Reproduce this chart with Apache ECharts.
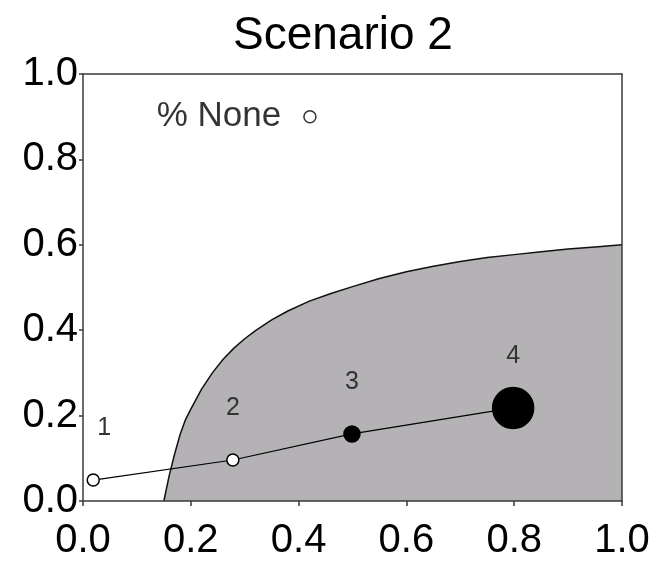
<!DOCTYPE html>
<html>
<head>
<meta charset="utf-8">
<script src="https://cdn.jsdelivr.net/npm/echarts@6/dist/echarts.min.js"></script>
<style>
html,body{margin:0;padding:0;background:#fff;}
#chart{width:658px;height:564px;}
</style>
</head>
<body>
<div id="chart"></div>
<script>
// Shaded region boundary
var boundaryX = [0.150, 0.160, 0.170, 0.180, 0.190, 0.200, 0.220, 0.240, 0.260, 0.280, 0.300, 0.320, 0.350, 0.380, 0.420, 0.460, 0.500, 0.550, 0.600, 0.650, 0.700, 0.750, 0.800, 0.850, 0.900, 0.950, 1.000];
var boundaryY = [0.000, 0.060, 0.110, 0.155, 0.190, 0.215, 0.262, 0.300, 0.332, 0.358, 0.380, 0.399, 0.424, 0.445, 0.468, 0.486, 0.502, 0.521, 0.537, 0.550, 0.561, 0.570, 0.577, 0.584, 0.590, 0.595, 0.600];

// Scenario points
var pointNames = ['1', '2', '3', '4'];
var pointX = [0.019, 0.278, 0.499, 0.798];
var pointY = [0.049, 0.096, 0.157, 0.218];
var pointSize = [12, 12, 16, 41];
var pointFilled = [false, false, true, true];

// Legend marker
var noneLabel = '% None';
var noneX = 0.421;
var noneY = 0.90;

var tickValues = [0.0, 0.2, 0.4, 0.6, 0.8, 1.0];
var titleText = 'Scenario 2';

var FONT = '"Liberation Sans", Arial, sans-serif';
var AXC = '#3a3a3a';

var boundaryData = boundaryX.map(function (x, i) { return [x, boundaryY[i]]; });
var pointData = pointX.map(function (x, i) {
  return {
    name: pointNames[i],
    value: [x, pointY[i]],
    symbolSize: pointSize[i],
    itemStyle: { color: pointFilled[i] ? '#000' : '#fff', borderColor: '#000', borderWidth: 1.5 },
    label: { offset: [i === 0 ? 11 : 0, -52] }
  };
});

var chart = echarts.init(document.getElementById('chart'), null, { renderer: 'canvas' });
chart.setOption({
  animation: false,
  backgroundColor: '#fff',
  title: {
    text: titleText,
    left: 228, top: 8,
    textStyle: { fontFamily: FONT, fontSize: 46, fontWeight: 'normal', color: '#000' }
  },
  grid: { left: 83, top: 74, width: 539, height: 427, containLabel: false },
  xAxis: [{
    type: 'value', min: 0, max: 1, interval: 0.2, z: 10,
    axisLine: { show: true, onZero: false, lineStyle: { color: AXC, width: 1.5 } },
    axisTick: { show: true, inside: false, length: 5, lineStyle: { color: AXC, width: 1.5 } },
    axisLabel: { margin: 20, fontFamily: FONT, fontSize: 40, color: '#000',
      formatter: function (v) { return v.toFixed(1); } },
    splitLine: { show: false }
  }, {
    type: 'value', position: 'top', min: 0, max: 1, z: 10,
    axisLine: { show: true, onZero: false, lineStyle: { color: AXC, width: 1.5 } },
    axisTick: { show: false }, axisLabel: { show: false }, splitLine: { show: false }
  }],
  yAxis: [{
    type: 'value', min: 0, max: 1, interval: 0.2, z: 10,
    axisLine: { show: true, onZero: false, lineStyle: { color: AXC, width: 1.5 } },
    axisTick: { show: true, inside: false, length: 4, lineStyle: { color: AXC, width: 1.5 } },
    axisLabel: { margin: 5, fontFamily: FONT, fontSize: 40, color: '#000',
      formatter: function (v) { return v.toFixed(1); } },
    splitLine: { show: false }
  }, {
    type: 'value', position: 'right', min: 0, max: 1, z: 10,
    axisLine: { show: true, onZero: false, lineStyle: { color: AXC, width: 1.5 } },
    axisTick: { show: false }, axisLabel: { show: false }, splitLine: { show: false }
  }],
  series: [{
    type: 'line',
    data: boundaryData,
    smooth: false,
    symbol: 'none',
    lineStyle: { color: '#111', width: 1.5 },
    areaStyle: { color: '#b4b2b5', opacity: 1 },
    z: 1
  }, {
    type: 'line',
    data: pointData,
    symbol: 'circle',
    lineStyle: { color: '#000', width: 1.2 },
    label: {
      show: true, position: 'inside',
      formatter: '{b}',
      fontFamily: FONT, fontSize: 25, color: '#333'
    },
    z: 5
  }, {
    type: 'scatter',
    data: [{ name: noneLabel, value: [noneX, noneY] }],
    symbol: 'circle', symbolSize: 12,
    itemStyle: { color: '#fff', borderColor: '#000', borderWidth: 1.5 },
    label: {
      show: true, position: 'left', distance: 22,
      formatter: '{b}',
      fontFamily: FONT, fontSize: 35, color: '#000'
    },
    z: 5
  }]
});
</script>
</body>
</html>
